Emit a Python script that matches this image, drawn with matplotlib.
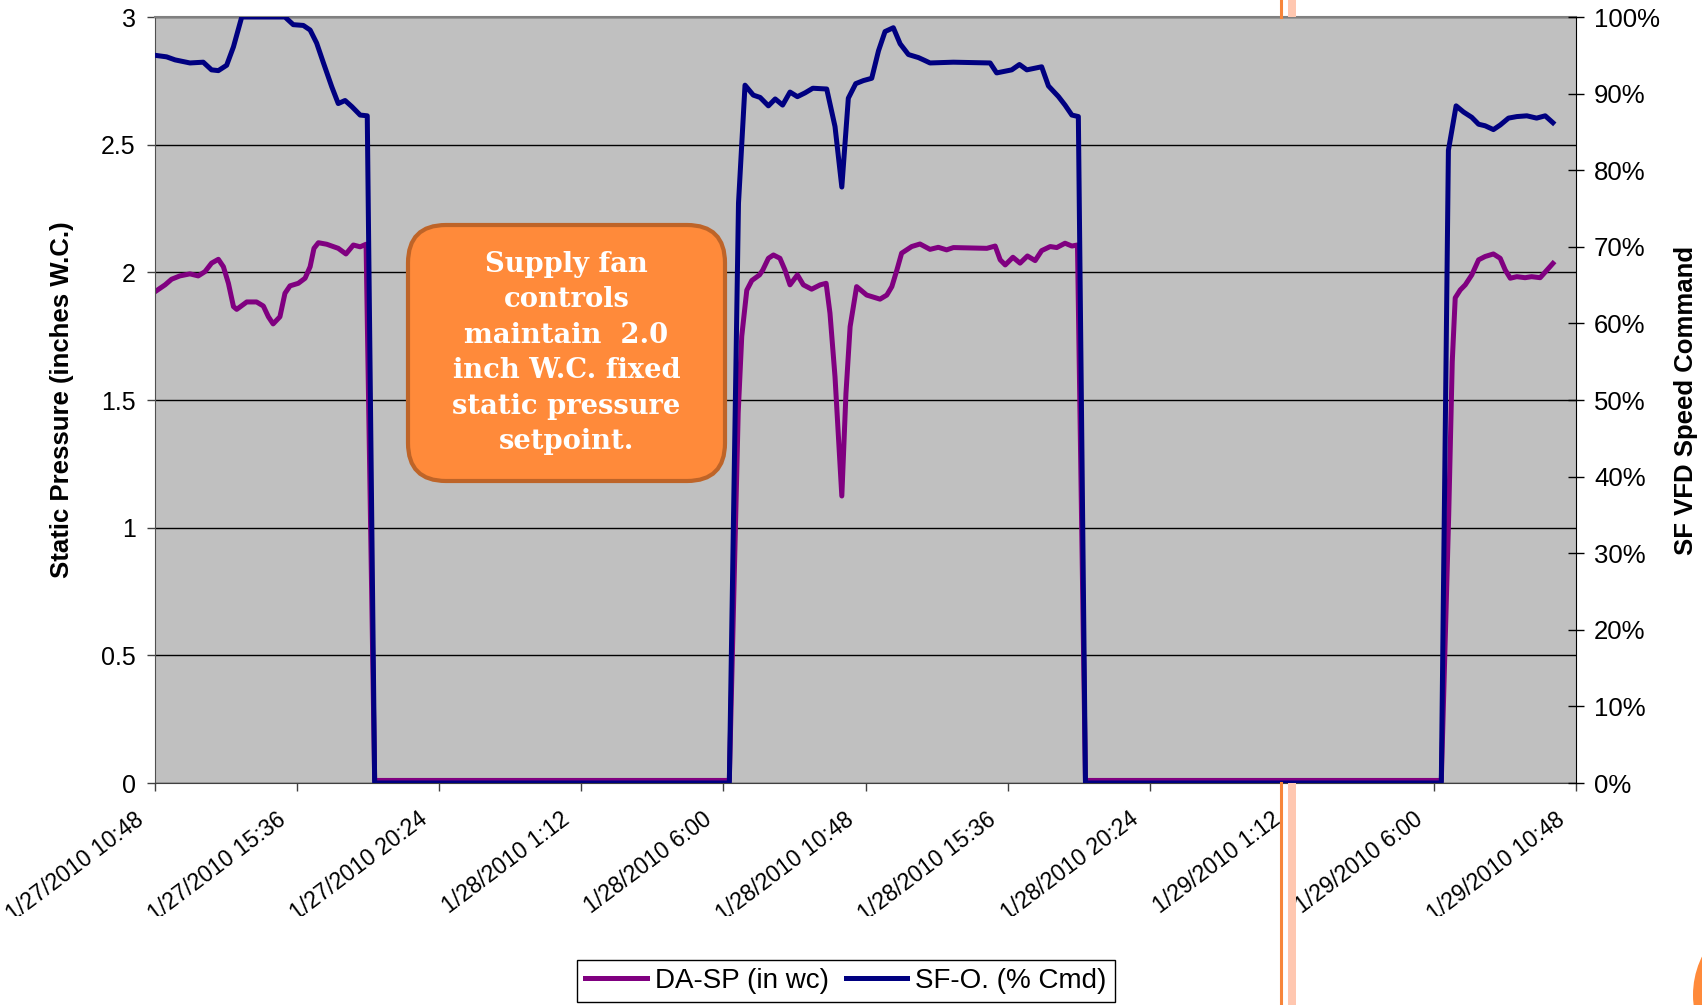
import matplotlib
matplotlib.use("Agg")
import matplotlib.pyplot as plt
from matplotlib.patches import FancyBboxPatch, Rectangle, Circle
from matplotlib.lines import Line2D
from matplotlib.transforms import IdentityTransform, Bbox, ScaledTranslation

plt.rcParams['font.family'] = ['Liberation Sans', 'DejaVu Sans']

# hours after 1/27/2010 10:48
hours_sp = [0.0, 0.34, 0.56, 0.84, 1.18, 1.46, 1.69, 1.91, 2.14, 2.31, 2.48, 2.65, 2.76,
            3.10, 3.43, 3.66, 3.83, 3.99, 4.22, 4.39, 4.56, 4.84, 5.07, 5.24, 5.37, 5.52,
            5.80, 6.19, 6.45, 6.70, 6.93, 7.13, 7.42, 19.40,
            19.70, 19.82, 19.99, 20.16, 20.42, 20.53, 20.72, 20.89, 21.11, 21.28, 21.45,
            21.70, 21.90, 22.18, 22.47, 22.67, 22.80, 22.97, 23.20, 23.34, 23.48, 23.70,
            24.04, 24.49, 24.72, 24.89, 25.06, 25.22, 25.56, 25.84, 26.18, 26.46, 26.74,
            26.97, 28.10, 28.38, 28.55, 28.72, 28.98, 29.22, 29.47, 29.73, 29.95, 30.24,
            30.46, 30.74, 30.97, 31.16, 31.43, 43.45,
            43.70, 43.82, 43.92, 44.09, 44.26, 44.48, 44.71, 44.93, 45.21, 45.44, 45.61,
            45.78, 46.00, 46.28, 46.50, 46.79, 47.02, 47.22]
da_sp = [1.924, 1.951, 1.973, 1.986, 1.994, 1.986, 2.003, 2.036, 2.051, 2.022, 1.957, 1.866, 1.855,
         1.884, 1.884, 1.868, 1.826, 1.798, 1.826, 1.918, 1.947, 1.957, 1.977, 2.022, 2.094, 2.116,
         2.110, 2.094, 2.072, 2.107, 2.100, 2.110, 0.01, 0.01,
         1.45, 1.75, 1.93, 1.968, 1.990, 2.009, 2.055, 2.068, 2.055, 2.009, 1.951,
         1.990, 1.951, 1.934, 1.951, 1.957, 1.840, 1.591, 1.124, 1.526, 1.787, 1.944,
         1.911, 1.895, 1.911, 1.944, 2.009, 2.075, 2.101, 2.111, 2.090, 2.098, 2.088,
         2.097, 2.094, 2.103, 2.049, 2.029, 2.059, 2.036, 2.064, 2.046, 2.085, 2.101,
         2.097, 2.114, 2.103, 2.107, 0.01, 0.01,
         1.05, 1.65, 1.90, 1.931, 1.951, 1.990, 2.049, 2.062, 2.072, 2.055, 2.009,
         1.977, 1.983, 1.979, 1.983, 1.979, 2.009, 2.035]

hours_sf = [0.0, 0.39, 0.68, 1.18, 1.63, 1.91, 2.14, 2.42, 2.65, 2.93, 4.39, 4.67, 5.01,
            5.24, 5.46, 5.69, 5.97, 6.19, 6.42, 6.65, 6.93, 7.17, 7.42, 19.40,
            19.71, 19.93, 20.21, 20.44, 20.72, 20.95, 21.20, 21.45, 21.70, 21.96, 22.22,
            22.69, 22.97, 23.20, 23.42, 23.67, 23.93, 24.21, 24.44, 24.66, 24.94, 25.17,
            25.45, 25.79, 25.96, 26.18, 26.97, 28.21, 28.43, 28.94, 29.20, 29.45, 29.95,
            30.18, 30.52, 30.74, 30.97, 31.19, 31.43, 43.45,
            43.69, 43.95, 44.20, 44.48, 44.71, 44.93, 45.21, 45.44, 45.72, 46.00, 46.34,
            46.67, 46.96, 47.22]
sf_cmd = [95.0, 94.8, 94.4, 94.0, 94.1, 93.1, 93.0, 93.7, 96.1, 100.0, 100.0, 99.0, 98.9,
          98.3, 96.6, 94.0, 90.9, 88.7, 89.1, 88.3, 87.2, 87.1, 0.0, 0.0,
          75.7, 91.1, 89.8, 89.5, 88.4, 89.3, 88.5, 90.2, 89.6, 90.1, 90.7,
          90.6, 85.7, 77.8, 89.4, 91.3, 91.7, 92.0, 95.6, 98.1, 98.6, 96.5,
          95.1, 94.7, 94.4, 94.0, 94.1, 94.0, 92.7, 93.1, 93.8, 93.1, 93.5,
          91.0, 89.6, 88.5, 87.2, 87.0, 0.0, 0.0,
          82.6, 88.4, 87.6, 86.9, 86.0, 85.8, 85.3, 85.9, 86.8, 87.0, 87.1,
          86.8, 87.1, 86.2]

x_ticks = [0, 4.8, 9.6, 14.4, 19.2, 24, 28.8, 33.6, 38.4, 43.2, 48]
x_labels = ['1/27/2010 10:48', '1/27/2010 15:36', '1/27/2010 20:24', '1/28/2010 1:12',
            '1/28/2010 6:00', '1/28/2010 10:48', '1/28/2010 15:36', '1/28/2010 20:24',
            '1/29/2010 1:12', '1/29/2010 6:00', '1/29/2010 10:48']
sp_ticks = [0, 0.5, 1, 1.5, 2, 2.5, 3]
sp_labels = ['0', '0.5', '1', '1.5', '2', '2.5', '3']
pct_ticks = list(range(0, 101, 10))
pct_labels = [f'{p}%' for p in pct_ticks]

note = 'Supply fan\ncontrols\nmaintain  2.0\ninch W.C. fixed\nstatic pressure\nsetpoint.'

W, H = 1702, 1005
fig = plt.figure(figsize=(W / 100, H / 100), dpi=100)
ax = fig.add_axes([155 / W, 1 - 783 / H, 1421 / W, 766 / H])
ax2 = ax.twinx()

ax.set_facecolor('#C0C0C0')
l1, = ax.plot(hours_sp, da_sp, color='#800080', lw=3.6, label='DA-SP (in wc)', solid_joinstyle='round')
l2, = ax2.plot(hours_sf, sf_cmd, color='#000080', lw=3.6, label='SF-O. (% Cmd)', solid_joinstyle='round')

ax.set_xlim(0, 48)
ax.set_ylim(0, 3)
ax2.set_ylim(0, 100)

ax.set_yticks(sp_ticks, sp_labels)
ax2.set_yticks(pct_ticks, pct_labels)
ax.set_xticks(x_ticks, x_labels, rotation=37, ha='right', va='bottom', rotation_mode='anchor')
ax.grid(axis='y', color='black', lw=1)

for s in ['top', 'left', 'bottom']:
    ax2.spines[s].set_visible(False)
ax.spines['right'].set_visible(False)
ax.spines['top'].set_color('#808080')
ax.spines['top'].set_linewidth(1.5)
ax.spines['left'].set_color('#505050')
ax.spines['bottom'].set_color('#404040')
ax2.spines['right'].set_color('black')

ax.tick_params(axis='y', direction='out', length=6, width=1, pad=8, labelsize=18, color='#404040')
ax.tick_params(axis='x', direction='out', length=6, width=1, pad=25, labelsize=16.5, color='#404040')
ax2.tick_params(axis='y', direction='inout', length=12, width=1, pad=7, labelsize=18.5)

ax.set_ylabel('Static Pressure (inches W.C.)', fontsize=18.5, fontweight='bold', va='center')
ax.yaxis.set_label_coords(-0.0655, 0.5)
ax2.set_ylabel('SF VFD Speed Command', fontsize=18.5, fontweight='bold', va='center', rotation=90)
ax2.yaxis.set_label_coords(1.0774, 0.5)

# tick labels sit a little left of their ticks and are cut off at the bottom
clip = Bbox.from_extents(0, H - 916, W, H)
shift = ScaledTranslation(-5 / 72, 0, fig.dpi_scale_trans)
for lab in ax.get_xticklabels():
    lab.set_transform(lab.get_transform() + shift)
    lab.set_clip_on(True)
    lab.set_clip_box(clip)

fig.legend(handles=[l1, l2], loc='lower center', bbox_to_anchor=(0.497, 0.0), ncol=2,
           fontsize=20, frameon=True, fancybox=False, edgecolor='black', framealpha=1,
           handlelength=2.2, handletextpad=0.3, columnspacing=0.6, borderpad=0.3,
           borderaxespad=0.1)

# callout box
box = FancyBboxPatch((408, H - 481), 317, 256, boxstyle='round,pad=0,rounding_size=38',
                     transform=IdentityTransform(), facecolor='#FF8A3A', edgecolor='#BE6428',
                     lw=3, zorder=5)
fig.add_artist(box)
fig.text(566.5 / W, 1 - 353 / H, note, ha='center', va='center', color='white',
         fontsize=19.7, fontweight='bold', family='DejaVu Serif', linespacing=1.4, zorder=6)

# slide decorations around the chart
for y0, y1 in [(0, 17), (783, H)]:
    fig.add_artist(Line2D([1281, 1281], [H - y1, H - y0], transform=IdentityTransform(),
                          color='#F7853A', lw=2.2, zorder=4))
    fig.add_artist(Rectangle((1288, H - y1), 8, y1 - y0, transform=IdentityTransform(),
                             facecolor='#FFC7B0', edgecolor='none', zorder=4))
fig.add_artist(Circle((1780, 10), 87, transform=IdentityTransform(), facecolor='#FF8A3A',
                      edgecolor='none', zorder=4))

fig.savefig('out.png', dpi=100)
